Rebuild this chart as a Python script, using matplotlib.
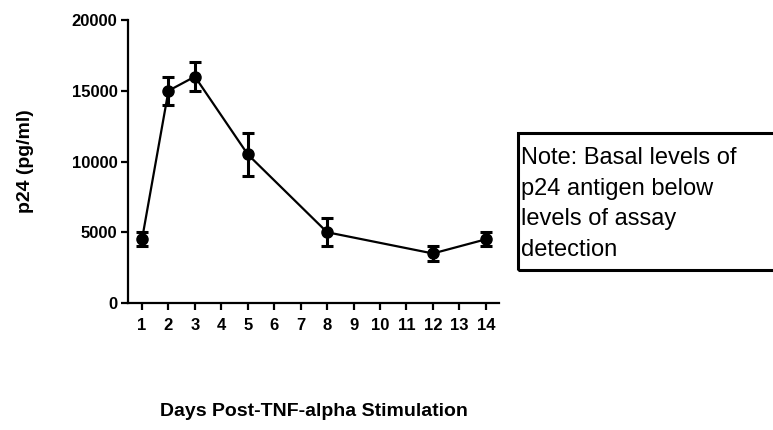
import matplotlib.pyplot as plt
from matplotlib.patches import Rectangle

days = [1, 2, 3, 5, 8, 12, 14]
p24 = [4500, 15000, 16000, 10500, 5000, 3500, 4500]
p24_err = [500, 1000, 1000, 1500, 1000, 500, 500]
x_ticks = list(range(1, 15))
y_ticks = [0, 5000, 10000, 15000, 20000]
note = "Note: Basal levels of\np24 antigen below\nlevels of assay\ndetection"

plt.rcParams["font.family"] = ["Liberation Sans", "DejaVu Sans"]

fig = plt.figure(figsize=(7.73, 4.30), dpi=100)
ax = fig.add_axes([128 / 773, 1 - 303 / 430, 371 / 773, 283 / 430])

ax.errorbar(days, p24, yerr=p24_err, color="black", lw=1.6, marker="o",
            ms=8, elinewidth=2.2, capsize=4.5, capthick=2.2, clip_on=False)

ax.set_xlim(0.47, 14.5)
ax.set_ylim(0, 20000)
ax.set_xticks(x_ticks)
ax.set_yticks(y_ticks)
ax.tick_params(axis="both", width=1.6, length=5, labelsize=12)
ax.tick_params(axis="x", pad=6)
ax.tick_params(axis="y", pad=2.5)
for lbl in ax.get_xticklabels() + ax.get_yticklabels():
    lbl.set_fontweight("bold")
for side in ["top", "right"]:
    ax.spines[side].set_visible(False)
for side in ["left", "bottom"]:
    ax.spines[side].set_linewidth(1.6)

ax.set_ylabel("p24 (pg/ml)", fontsize=14, fontweight="bold")
ax.yaxis.set_label_coords(-0.253, 0.5)
ax.set_xlabel("Days Post-TNF-alpha Stimulation", fontsize=14, fontweight="bold")
ax.xaxis.set_label_coords(0.501, -0.355)

# note box, running off the right edge
fig.patches.append(Rectangle((518 / 773, 1 - 270 / 430), 300 / 773, 137 / 430,
                             transform=fig.transFigure, fill=False,
                             edgecolor="black", lw=2.2))
fig.text(521 / 773, 1 - 147 / 430, note, fontsize=17, va="top", ha="left",
         linespacing=1.5)

fig.savefig("out.png", dpi=100)
